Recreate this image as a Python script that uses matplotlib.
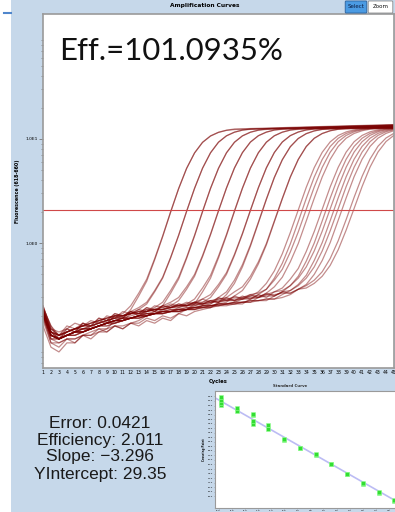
import matplotlib
matplotlib.use("Agg")
import matplotlib.pyplot as plt
from matplotlib.patches import FancyBboxPatch, Rectangle
from matplotlib.lines import Line2D
from matplotlib.ticker import NullFormatter

# fluorescence per cycle for each well (log-scale amplification plot)
CYCLES = list(range(1, 46))

well_01 = [0.22, 0.13, 0.12, 0.13, 0.14, 0.15, 0.15, 0.16, 0.17,
           0.20, 0.21, 0.25, 0.33, 0.45, 0.71, 1.17, 2.00, 3.34, 5.22, 7.35, 9.29, 10.70, 11.60, 12.14,
           12.46, 12.52, 12.59, 12.65, 12.71, 12.78, 12.84, 12.91, 12.97, 13.04, 13.10, 13.16, 13.23,
           13.29, 13.36, 13.42, 13.48, 13.55, 13.61, 13.68, 13.74]
well_02 = [0.19, 0.12, 0.11, 0.12, 0.12, 0.13, 0.14, 0.15, 0.15,
           0.18, 0.19, 0.23, 0.31, 0.43, 0.69, 1.15, 1.98, 3.32, 5.20, 7.33, 9.26, 10.66, 11.55, 12.08,
           12.31, 12.37, 12.44, 12.50, 12.56, 12.63, 12.69, 12.76, 12.82, 12.89, 12.95, 13.01, 13.08,
           13.14, 13.21, 13.27, 13.33, 13.40, 13.46, 13.53, 13.59]
well_03 = [0.23, 0.14, 0.12, 0.14, 0.15, 0.15, 0.16, 0.17, 0.18, 0.19, 0.19,
           0.22, 0.24, 0.27, 0.35, 0.47, 0.73, 1.19, 2.02, 3.36, 5.24, 7.37, 9.31, 10.72, 11.62, 12.16,
           12.47, 12.53, 12.59, 12.66, 12.72, 12.79, 12.85, 12.92, 12.98, 13.04, 13.11, 13.17, 13.24,
           13.30, 13.36, 13.43, 13.49, 13.56, 13.62]
well_04 = [0.21, 0.13, 0.12, 0.13, 0.13, 0.14, 0.15, 0.16, 0.17, 0.17, 0.18,
           0.21, 0.23, 0.26, 0.34, 0.46, 0.72, 1.18, 2.01, 3.35, 5.23, 7.36, 9.30, 10.71, 11.61, 12.15,
           12.37, 12.43, 12.49, 12.56, 12.62, 12.69, 12.75, 12.82, 12.88, 12.94, 13.01, 13.07, 13.14,
           13.20, 13.26, 13.33, 13.39, 13.46, 13.52]
well_05 = [0.22, 0.14, 0.12, 0.13, 0.14, 0.14, 0.15, 0.16, 0.17, 0.18, 0.19, 0.19, 0.20,
           0.22, 0.24, 0.27, 0.35, 0.47, 0.73, 1.19, 2.02, 3.36, 5.24, 7.37, 9.31, 10.72, 11.62, 12.16,
           12.47, 12.54, 12.60, 12.67, 12.73, 12.80, 12.86, 12.92, 12.99, 13.05, 13.12, 13.18, 13.24,
           13.31, 13.37, 13.44, 13.50]
well_06 = [0.18, 0.11, 0.11, 0.12, 0.12, 0.13, 0.13, 0.14, 0.15, 0.16, 0.16, 0.17, 0.18,
           0.20, 0.22, 0.25, 0.33, 0.45, 0.71, 1.17, 2.00, 3.34, 5.21, 7.35, 9.28, 10.69, 11.59, 12.13,
           12.35, 12.42, 12.48, 12.55, 12.61, 12.68, 12.74, 12.80, 12.87, 12.93, 13.00, 13.06, 13.12,
           13.19, 13.25, 13.32, 13.38]
well_07 = [0.24, 0.16, 0.12, 0.15, 0.14, 0.17, 0.15, 0.18, 0.17, 0.20, 0.19, 0.22, 0.20, 0.23, 0.22,
           0.25, 0.27, 0.30, 0.38, 0.50, 0.76, 1.22, 2.05, 3.39, 5.27, 7.40, 9.34, 10.75, 11.64, 12.19,
           12.48, 12.55, 12.61, 12.68, 12.74, 12.80, 12.87, 12.93, 13.00, 13.06, 13.12, 13.19, 13.25,
           13.32, 13.38]
well_08 = [0.20, 0.13, 0.12, 0.13, 0.14, 0.14, 0.15, 0.16, 0.16, 0.17, 0.18, 0.19, 0.19, 0.20, 0.21,
           0.23, 0.25, 0.28, 0.36, 0.48, 0.74, 1.20, 2.03, 3.37, 5.25, 7.38, 9.32, 10.73, 11.62, 12.17,
           12.38, 12.45, 12.51, 12.58, 12.64, 12.70, 12.77, 12.83, 12.90, 12.96, 13.02, 13.09, 13.15,
           13.22, 13.28]
well_09 = [0.21, 0.12, 0.12, 0.13, 0.14, 0.15, 0.15, 0.16, 0.17, 0.18, 0.18, 0.19, 0.20, 0.21, 0.21,
           0.22, 0.22,
           0.24, 0.26, 0.29, 0.37, 0.49, 0.75, 1.21, 2.04, 3.38, 5.26, 7.39, 9.32, 10.74, 11.63, 12.18,
           12.49, 12.56, 12.62, 12.68, 12.75, 12.81, 12.88, 12.94, 13.00, 13.07, 13.13, 13.20, 13.26]
well_10 = [0.16, 0.10, 0.09, 0.11, 0.11, 0.13, 0.12, 0.14, 0.14, 0.16, 0.15, 0.17, 0.16, 0.18, 0.17,
           0.19, 0.18,
           0.21, 0.23, 0.26, 0.34, 0.46, 0.72, 1.18, 2.01, 3.35, 5.23, 7.36, 9.29, 10.71, 11.60, 12.15,
           12.37, 12.44, 12.50, 12.56, 12.63, 12.69, 12.76, 12.82, 12.88, 12.95, 13.01, 13.08, 13.14]
well_11 = [0.23, 0.14, 0.13, 0.14, 0.15, 0.16, 0.17, 0.18, 0.19, 0.20, 0.20, 0.21, 0.22, 0.22, 0.23,
           0.23, 0.24, 0.25, 0.25,
           0.27, 0.29, 0.32, 0.40, 0.52, 0.78, 1.24, 2.07, 3.41, 5.29, 7.42, 9.36, 10.77, 11.67, 12.21,
           12.53, 12.59, 12.66, 12.72, 12.79, 12.85, 12.91, 12.98, 13.04, 13.11, 13.17]
well_12 = [0.21, 0.13, 0.12, 0.13, 0.13, 0.14, 0.15, 0.16, 0.17, 0.17, 0.18, 0.19, 0.19, 0.20, 0.21,
           0.21, 0.22, 0.22, 0.23,
           0.25, 0.27, 0.30, 0.38, 0.50, 0.76, 1.22, 2.05, 3.39, 5.26, 7.40, 9.33, 10.75, 11.64, 12.19,
           12.42, 12.48, 12.55, 12.61, 12.68, 12.74, 12.80, 12.87, 12.93, 13.00, 13.06]
well_13 = [0.22, 0.13, 0.12, 0.13, 0.14, 0.14, 0.15, 0.16, 0.17, 0.18, 0.18, 0.19, 0.20, 0.20, 0.21,
           0.21, 0.22, 0.22, 0.23, 0.23,
           0.25, 0.26, 0.30, 0.34, 0.44, 0.62, 0.96, 1.59, 2.65, 4.28, 6.33, 8.43, 10.12, 11.26, 11.96,
           12.37,
           12.54, 12.60, 12.67, 12.73, 12.79, 12.86, 12.92, 12.99, 13.05]
well_14 = [0.20, 0.11, 0.10, 0.12, 0.11, 0.13, 0.13, 0.15, 0.14, 0.16, 0.15, 0.17, 0.17, 0.19, 0.18,
           0.20, 0.19, 0.21, 0.20, 0.22,
           0.23, 0.24, 0.27, 0.32, 0.41, 0.59, 0.93, 1.56, 2.62, 4.25, 6.30, 8.40, 10.09, 11.23, 11.93,
           12.34,
           12.44, 12.50, 12.57, 12.63, 12.69, 12.76, 12.82, 12.89, 12.95]
well_15 = [0.23, 0.15, 0.13, 0.14, 0.15, 0.16, 0.17, 0.18, 0.19, 0.20, 0.20, 0.21, 0.22, 0.22, 0.23,
           0.23, 0.24, 0.24, 0.25, 0.25, 0.26, 0.26,
           0.29, 0.30, 0.34, 0.38, 0.48, 0.66, 0.99, 1.63, 2.69, 4.32, 6.37, 8.47, 10.16, 11.29, 12.00,
           12.41,
           12.58, 12.64, 12.70, 12.77, 12.83, 12.90, 12.96]
well_16 = [0.21, 0.13, 0.12, 0.13, 0.14, 0.14, 0.15, 0.16, 0.17, 0.18, 0.18, 0.19, 0.20, 0.20, 0.21,
           0.21, 0.22, 0.22, 0.23, 0.23, 0.24, 0.24,
           0.26, 0.27, 0.31, 0.35, 0.45, 0.63, 0.96, 1.60, 2.66, 4.29, 6.34, 8.44, 10.13, 11.26, 11.97,
           12.38,
           12.50, 12.56, 12.62, 12.69, 12.75, 12.82, 12.88]
well_17 = [0.22, 0.14, 0.12, 0.14, 0.15, 0.15, 0.16, 0.17, 0.18, 0.19, 0.19, 0.20, 0.21, 0.21, 0.22,
           0.22, 0.23, 0.23, 0.24, 0.24, 0.25, 0.25, 0.26, 0.26, 0.27,
           0.29, 0.31, 0.34, 0.41, 0.54, 0.79, 1.26, 2.08, 3.43, 5.30, 7.44, 9.37, 10.79, 11.68, 12.23,
           12.54, 12.61, 12.67, 12.74, 12.80]
well_18 = [0.20, 0.12, 0.12, 0.13, 0.13, 0.14, 0.15, 0.16, 0.16, 0.17, 0.18, 0.19, 0.19, 0.20, 0.21,
           0.21, 0.22, 0.22, 0.23, 0.23, 0.24, 0.24, 0.25, 0.25, 0.26, 0.26,
           0.29, 0.32, 0.36, 0.46, 0.64, 0.98, 1.61, 2.68, 4.30, 6.35, 8.45, 10.14, 11.28, 11.98, 12.39,
           12.56, 12.62, 12.69, 12.75]
well_19 = [0.25, 0.15, 0.13, 0.16, 0.15, 0.17, 0.16, 0.19, 0.18, 0.21, 0.20, 0.22, 0.21, 0.24, 0.23,
           0.25, 0.24, 0.26, 0.25, 0.27, 0.26, 0.28, 0.27, 0.29, 0.28, 0.30,
           0.32, 0.33, 0.36, 0.44, 0.56, 0.82, 1.28, 2.11, 3.45, 5.33, 7.46, 9.40, 10.81, 11.71, 12.25,
           12.57, 12.63, 12.70, 12.76]
well_20 = [0.21, 0.13, 0.12, 0.13, 0.14, 0.14, 0.15, 0.16, 0.17, 0.18, 0.18, 0.19, 0.20, 0.20, 0.21,
           0.22, 0.22, 0.23, 0.23, 0.24, 0.24, 0.25, 0.25, 0.26, 0.26, 0.27, 0.27,
           0.30, 0.33, 0.38, 0.47, 0.66, 0.99, 1.63, 2.69, 4.31, 6.37, 8.46, 10.16, 11.29, 11.99, 12.41,
           12.56, 12.63, 12.69]
well_21 = [0.23, 0.14, 0.13, 0.14, 0.15, 0.16, 0.16, 0.17, 0.18, 0.19, 0.20, 0.21, 0.21, 0.22, 0.23,
           0.23, 0.24, 0.25, 0.25, 0.26, 0.26, 0.27, 0.27, 0.28, 0.28, 0.29, 0.29, 0.30,
           0.32, 0.34, 0.37, 0.45, 0.57, 0.83, 1.29, 2.11, 3.46, 5.33, 7.47, 9.40, 10.81, 11.71, 12.25,
           12.57, 12.63]
well_22 = [0.21, 0.13, 0.12, 0.13, 0.14, 0.15, 0.15, 0.16, 0.17, 0.18, 0.19, 0.19, 0.20, 0.21, 0.21,
           0.22, 0.22, 0.23, 0.23, 0.24, 0.24, 0.25, 0.25, 0.26, 0.26, 0.27, 0.27, 0.28, 0.28,
           0.31, 0.34, 0.39, 0.48, 0.67, 1.00, 1.63, 2.70, 4.32, 6.38, 8.47, 10.16, 11.30, 12.00, 12.42,
           12.58]
well_23 = [0.24, 0.16, 0.13, 0.15, 0.14, 0.17, 0.16, 0.19, 0.18, 0.21, 0.20, 0.22, 0.21, 0.24, 0.22,
           0.25, 0.24, 0.26, 0.25, 0.27, 0.26, 0.28, 0.27, 0.30, 0.28, 0.31, 0.29, 0.32, 0.30,
           0.34, 0.35, 0.39, 0.46, 0.59, 0.84, 1.30, 2.13, 3.47, 5.35, 7.48, 9.41, 10.83, 11.72, 12.27,
           12.58]
well_24 = [0.22, 0.13, 0.12, 0.13, 0.14, 0.15, 0.15, 0.16, 0.17, 0.18, 0.19, 0.19, 0.20, 0.21, 0.21,
           0.22, 0.23, 0.23, 0.24, 0.24, 0.25, 0.25, 0.26, 0.26, 0.27, 0.27, 0.28, 0.28, 0.29, 0.29,
           0.32, 0.35, 0.40, 0.49, 0.68, 1.01, 1.64, 2.71, 4.33, 6.39, 8.48, 10.17, 11.31, 12.01, 12.43]
well_25 = [0.23, 0.14, 0.13, 0.14, 0.15, 0.16, 0.16, 0.17, 0.18, 0.19, 0.20, 0.21, 0.21, 0.22, 0.23,
           0.23, 0.24, 0.25, 0.25, 0.26, 0.26, 0.27, 0.28, 0.28, 0.29, 0.29, 0.30, 0.30, 0.31, 0.31,
           0.34, 0.35, 0.39, 0.46, 0.59, 0.84, 1.31, 2.13, 3.48, 5.35, 7.48, 9.42, 10.83, 11.73, 12.27]
well_26 = [0.21, 0.13, 0.12, 0.13, 0.14, 0.14, 0.15, 0.16, 0.17, 0.18, 0.18, 0.19, 0.20, 0.20, 0.21,
           0.22, 0.22, 0.23, 0.23, 0.24, 0.25, 0.25, 0.26, 0.26, 0.27, 0.27, 0.28, 0.28, 0.29, 0.29,
           0.30,
           0.32, 0.36, 0.40, 0.50, 0.68, 1.01, 1.65, 2.71, 4.34, 6.39, 8.48, 10.18, 11.31, 12.02]
well_27 = [0.25, 0.15, 0.14, 0.15, 0.17, 0.16, 0.18, 0.17, 0.20, 0.19, 0.22, 0.21, 0.23, 0.22, 0.25,
           0.24, 0.26, 0.25, 0.27, 0.26, 0.29, 0.27, 0.30, 0.28, 0.31, 0.29, 0.32, 0.30, 0.33, 0.31,
           0.34, 0.33,
           0.36, 0.39, 0.44, 0.53, 0.71, 1.05, 1.68, 2.75, 4.37, 6.42, 8.52, 10.21, 11.34]
well_28 = [0.23, 0.14, 0.13, 0.14, 0.15, 0.16, 0.17, 0.18, 0.19, 0.20, 0.20, 0.21, 0.22, 0.23, 0.23,
           0.24, 0.25, 0.25, 0.26, 0.27, 0.27, 0.28, 0.29, 0.29, 0.30, 0.30, 0.31, 0.31, 0.32, 0.32,
           0.33, 0.33,
           0.36, 0.37, 0.41, 0.48, 0.61, 0.86, 1.33, 2.15, 3.49, 5.37, 7.50, 9.44, 10.85]

WELLS = [well_01, well_02, well_03, well_04, well_05, well_06, well_07, well_08,
         well_09, well_10, well_11, well_12, well_13, well_14, well_15, well_16,
         well_17, well_18, well_19, well_20, well_21, well_22, well_23, well_24,
         well_25, well_26, well_27, well_28]

THRESHOLD = 2.07

# standard curve: log concentration of each dilution and replicate crossing points
STD_LOG_CONC = [3.7, 3.1, 2.5, 1.9, 1.3, 0.7, 0.1, -0.5, -1.1, -1.7, -2.3, -2.9]
STD_CP = [[17.0, 17.1], [18.8, 18.9], [20.8, 20.9], [22.9, 23.0], [25.1, 25.2],
          [27.1, 27.2], [28.6, 28.7], [30.5, 30.6], [32.9, 33.6],
          [33.9, 34.6, 35.8, 36.2], [36.8, 37.5], [38.1, 38.6, 39.2, 39.8]]

EFF_PERCENT = "101.0935"
ERROR = "0.0421"
EFFICIENCY = "2.011"
SLOPE = -3.296
Y_INTERCEPT = 29.35

W, H = 395, 512
BG = "#c6d8ea"
CURVE = "#7a0000"


def fx(px):
    return px / W


def fy(px):
    return 1 - px / H


fig = plt.figure(figsize=(W / 100, H / 100), dpi=100)
fig.patch.set_facecolor(BG)
fig.add_artist(Rectangle((0, 0), fx(11), 1, transform=fig.transFigure,
                         facecolor="white", edgecolor="none"))
fig.add_artist(Line2D([fx(4), fx(11)], [fy(13), fy(13)], color="#4f86cc", lw=1.5))

# amplification curves
ax = fig.add_axes([fx(43), fy(368), fx(351), 354 / H])
ax.set_facecolor("white")
for w in WELLS:
    ax.plot(CYCLES, w, color=CURVE, lw=0.9, alpha=0.45)
ax.axhline(THRESHOLD, color="#d04848", lw=0.8)

ax.set_yscale("log")
ax.set_ylim(10 ** -1.2, 10 ** 2.2)
ax.set_xlim(1, 45)
ax.set_yticks([1, 10])
ax.set_yticklabels(["1.0E0", "1.0E1"])
ax.yaxis.set_minor_formatter(NullFormatter())
ax.set_xticks(CYCLES)
ax.set_xticklabels([str(c) for c in CYCLES])
ax.tick_params(axis="y", which="major", length=3, width=0.6, color="#777777",
               labelsize=3.2, pad=1)
ax.tick_params(axis="y", which="minor", length=1.8, width=0.5, color="#777777")
ax.tick_params(axis="x", length=0, labelsize=3.3, pad=1.5)
for s in ax.spines.values():
    s.set_color("#9a9a9a")
    s.set_linewidth(1.2)

fig.text(fx(218), fy(381), "Cycles", fontsize=3.8, fontweight="bold",
         ha="center", va="center")
fig.text(fx(17), fy(191), "Fluorescence (618-660)", fontsize=3.4, fontweight="bold",
         rotation=90, ha="center", va="center")
fig.text(fx(205), fy(6), "Amplification Curves", fontsize=4.2, fontweight="bold",
         ha="center", va="center")

# toolbar buttons
sel = FancyBboxPatch((fx(346), fy(12)), fx(20), 10 / H, boxstyle="round,pad=0.002",
                     transform=fig.transFigure, facecolor="#4b9be3", edgecolor="#2a5f9a", lw=0.6)
zm = FancyBboxPatch((fx(369), fy(12)), fx(23), 10 / H, boxstyle="round,pad=0.002",
                    transform=fig.transFigure, facecolor="white", edgecolor="#8a8a8a", lw=0.6)
fig.add_artist(sel)
fig.add_artist(zm)
fig.text(fx(356), fy(7), "Select", fontsize=4.0, ha="center", va="center", color="#0a1a40")
fig.text(fx(380.5), fy(7), "Zoom", fontsize=4.0, ha="center", va="center", color="#111111")

fig.text(fx(59), fy(60), f"Eff.={EFF_PERCENT}%", fontsize=22.4, family="Lato",
         ha="left", va="baseline", color="#111111")

# fit statistics
slope_txt = f"{SLOPE}".replace("-", "\u2212")
stats = [f"Error: {ERROR}", f"Efficiency: {EFFICIENCY}",
         f"Slope: {slope_txt}", f"YIntercept: {Y_INTERCEPT}"]
for i, line in enumerate(stats):
    fig.text(fx(100), fy(423 + 17 * i), line, fontsize=12.5, family="Liberation Sans",
             ha="center", va="center", color="#1a1a1a")

# standard curve inset
ax2 = fig.add_axes([fx(215), fy(508), fx(185), 117 / H])
ax2.set_facecolor("white")
x0, x1 = -3.14, 3.92
ax2.set_xlim(x0, x1)
ax2.set_ylim(15.4, 41.2)
ax2.plot([x0, x1], [SLOPE * x0 + Y_INTERCEPT, SLOPE * x1 + Y_INTERCEPT],
         color="#bcbcf4", lw=1.2)
for lc, cps in zip(STD_LOG_CONC, STD_CP):
    ax2.scatter([lc] * len(cps), cps, marker="s", s=5, color="#33dd33",
                edgecolors="#99ff99", linewidths=0.4, zorder=3)
yt = list(range(18, 41))
ax2.set_yticks(yt)
ax2.set_yticklabels([f"{v}.0" for v in yt])
xt = [-3.0, -2.5, -2.0, -1.5, -1.0, -0.5, 0.0, 0.5, 1.0, 1.5, 2.0, 2.5, 3.0, 3.5]
ax2.set_xticks(xt)
ax2.set_xticklabels([f"{v:.1f}" for v in xt])
ax2.tick_params(labelsize=1.7, length=1, width=0.4, pad=0.6, color="#888888")
for s in ax2.spines.values():
    s.set_color("#9a9a9a")
    s.set_linewidth(0.8)
fig.text(fx(204.5), fy(450), "Crossing Point", fontsize=2.0, fontweight="bold",
         rotation=90, ha="center", va="center")
fig.text(fx(290), fy(386), "Standard Curve", fontsize=2.8, fontweight="bold",
         ha="center", va="center", color="#333333")

fig.savefig("out.png", dpi=100, facecolor=fig.get_facecolor())
